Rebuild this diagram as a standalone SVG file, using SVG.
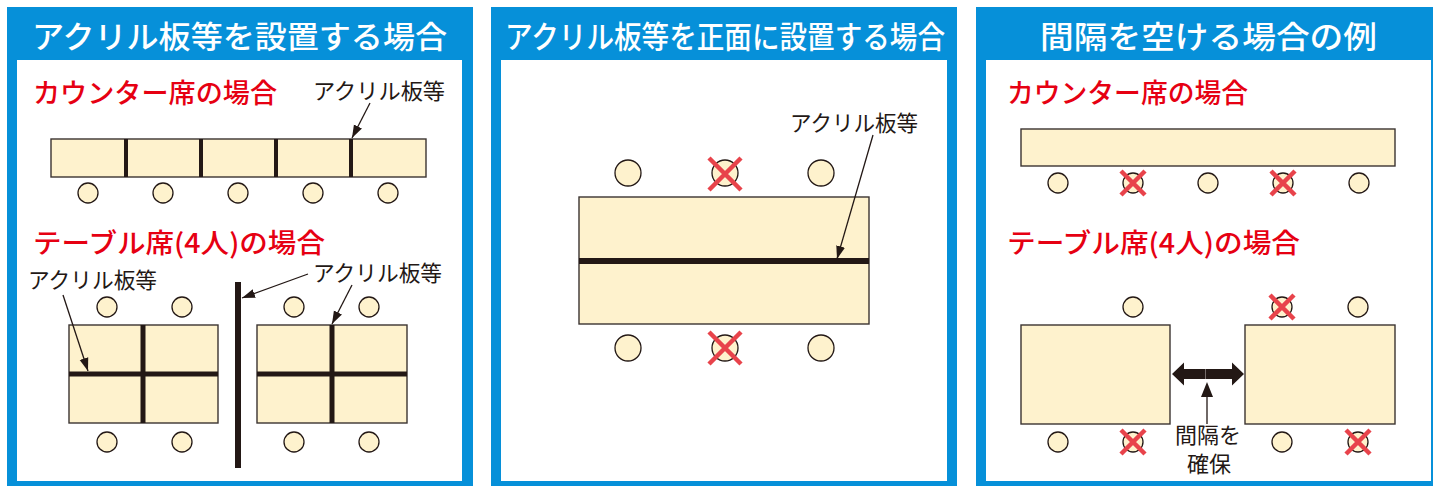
<svg xmlns="http://www.w3.org/2000/svg" width="1433" height="486" viewBox="0 0 1433 486">
<defs>
<style>
.panel{fill:#0690d9}
.inner{fill:#ffffff}
.title{font-family:"Noto Sans CJK JP","Noto Sans",sans-serif;font-size:31px;font-weight:500;fill:#ffffff}
.sub{font-family:"Noto Sans CJK JP","Noto Sans",sans-serif;font-size:27px;font-weight:500;fill:#e60012}
.lbl{font-family:"Noto Sans CJK JP","Noto Sans",sans-serif;font-size:22px;font-weight:400;fill:#231815}
.tbl{fill:#fef2cd;stroke:#3b3431;stroke-width:1.4}
.seat{fill:#fef2cd;stroke:#231815;stroke-width:1.3}
.bar{stroke:#231815;fill:none}
.ptr{stroke:#231815;stroke-width:1.3;fill:none;marker-end:url(#ah)}
.x{stroke:#e8434b;stroke-width:4.5;stroke-linecap:butt}
</style>
<marker id="ah" markerUnits="userSpaceOnUse" markerWidth="14" markerHeight="10" refX="13" refY="5" orient="auto">
<path d="M0,0.5 L13,5 L0,9.5 z" fill="#231815"/>
</marker>
</defs>

<!-- Panel 1 -->
<g id="panel1">
<rect class="panel" x="7" y="7" width="466" height="479"/>
<rect class="inner" x="17" y="60" width="445" height="421"/>
<text class="title" x="32" y="48" textLength="415" lengthAdjust="spacingAndGlyphs">アクリル板等を設置する場合</text>
<text class="sub" x="33" y="103" textLength="244" lengthAdjust="spacingAndGlyphs">カウンター席の場合</text>
<text class="sub" x="33" y="253" textLength="292" lengthAdjust="spacingAndGlyphs">テーブル席(4人)の場合</text>
</g>
<g id="p1-counter">
<rect class="tbl" x="51" y="139" width="375" height="38"/>
<g class="bar" stroke-width="4">
<line x1="126" y1="139" x2="126" y2="177"/>
<line x1="201" y1="139" x2="201" y2="177"/>
<line x1="276" y1="139" x2="276" y2="177"/>
<line x1="351" y1="139" x2="351" y2="177"/>
</g>
<circle class="seat" cx="88" cy="193" r="10"/>
<circle class="seat" cx="163" cy="193" r="10"/>
<circle class="seat" cx="238" cy="193" r="10"/>
<circle class="seat" cx="313" cy="193" r="10"/>
<circle class="seat" cx="388" cy="193" r="10"/>
<text class="lbl" x="313" y="99" textLength="132" lengthAdjust="spacingAndGlyphs">アクリル板等</text>
</g>
<g id="p1-table-left">
<rect class="tbl" x="69" y="325" width="149" height="98"/>
<g class="bar" stroke-width="5">
<line x1="143" y1="325" x2="143" y2="423"/>
<line x1="69" y1="374" x2="218" y2="374"/>
</g>
<circle class="seat" cx="107" cy="307" r="10"/>
<circle class="seat" cx="182" cy="307" r="10"/>
<circle class="seat" cx="107" cy="442" r="10"/>
<circle class="seat" cx="182" cy="442" r="10"/>
<text class="lbl" x="28" y="288" textLength="129" lengthAdjust="spacingAndGlyphs">アクリル板等</text>
</g>
<g id="p1-partition">
<line class="bar" stroke-width="6" x1="238" y1="282" x2="238" y2="468"/>
<text class="lbl" x="313" y="281" textLength="129" lengthAdjust="spacingAndGlyphs">アクリル板等</text>
</g>
<g id="p1-table-right">
<rect class="tbl" x="257" y="325" width="150" height="98"/>
<g class="bar" stroke-width="5">
<line x1="332" y1="325" x2="332" y2="423"/>
<line x1="257" y1="374" x2="407" y2="374"/>
</g>
<circle class="seat" cx="294" cy="307" r="10"/>
<circle class="seat" cx="369" cy="307" r="10"/>
<circle class="seat" cx="294" cy="442" r="10"/>
<circle class="seat" cx="369" cy="442" r="10"/>
</g>

<!-- Panel 2 -->
<g id="panel2">
<rect class="panel" x="491" y="7" width="466" height="479"/>
<rect class="inner" x="501" y="60" width="446" height="421"/>
<text class="title" x="505" y="48" textLength="440" lengthAdjust="spacingAndGlyphs">アクリル板等を正面に設置する場合</text>
</g>
<g id="p2-table">
<rect class="tbl" x="579" y="197" width="290" height="127"/>
<line class="bar" stroke-width="6" x1="579" y1="261" x2="869" y2="261"/>
<circle class="seat" cx="628" cy="173" r="13"/>
<circle class="seat" cx="725" cy="173" r="13"/>
<circle class="seat" cx="821" cy="173" r="13"/>
<circle class="seat" cx="628" cy="348" r="13"/>
<circle class="seat" cx="725" cy="348" r="13"/>
<circle class="seat" cx="821" cy="348" r="13"/>
<path class="x" d="M709,158 L741,190 M741,158 L709,190"/>
<path class="x" d="M709,332 L741,364 M741,332 L709,364"/>
<text class="lbl" x="790" y="131" textLength="128" lengthAdjust="spacingAndGlyphs">アクリル板等</text>
</g>

<!-- Panel 3 -->
<g id="panel3">
<rect class="panel" x="976" y="7" width="460" height="479"/>
<rect class="inner" x="986" y="60" width="445" height="421"/>
<text class="title" x="1040" y="48" textLength="337" lengthAdjust="spacingAndGlyphs">間隔を空ける場合の例</text>
<text class="sub" x="1007" y="103" textLength="241" lengthAdjust="spacingAndGlyphs">カウンター席の場合</text>
<text class="sub" x="1007" y="253" textLength="293" lengthAdjust="spacingAndGlyphs">テーブル席(4人)の場合</text>
</g>
<g id="p3-counter">
<rect class="tbl" x="1021" y="129" width="374" height="37"/>
<circle class="seat" cx="1058" cy="183" r="10"/>
<circle class="seat" cx="1133" cy="183" r="10"/>
<circle class="seat" cx="1208" cy="183" r="10"/>
<circle class="seat" cx="1283" cy="183" r="10"/>
<circle class="seat" cx="1359" cy="183" r="10"/>
<path class="x" d="M1121,171 L1145,195 M1145,171 L1121,195"/>
<path class="x" d="M1271,171 L1295,195 M1295,171 L1271,195"/>
</g>
<g id="p3-table-left">
<rect class="tbl" x="1021" y="325" width="149" height="99"/>
<circle class="seat" cx="1133" cy="307" r="10"/>
<circle class="seat" cx="1058" cy="442" r="10"/>
<circle class="seat" cx="1133" cy="442" r="10"/>
<path class="x" d="M1121,430 L1145,454 M1145,430 L1121,454"/>
</g>
<g id="p3-table-right">
<rect class="tbl" x="1245" y="325" width="150" height="99"/>
<circle class="seat" cx="1282" cy="307" r="10"/>
<circle class="seat" cx="1358" cy="307" r="10"/>
<circle class="seat" cx="1282" cy="442" r="10"/>
<circle class="seat" cx="1358" cy="442" r="10"/>
<path class="x" d="M1270,295 L1294,319 M1294,295 L1270,319"/>
<path class="x" d="M1346,430 L1370,454 M1370,430 L1346,454"/>
</g>
<g id="p3-gap-label">
<text class="lbl" x="1208" y="443" text-anchor="middle" font-size="20.5">間隔を</text>
<text class="lbl" x="1209" y="472" text-anchor="middle" font-size="20.5">確保</text>
</g>

<!-- Connectors -->
<g id="connectors">
<line class="ptr" x1="370" y1="103" x2="352" y2="138"/>
<line class="ptr" x1="63" y1="295" x2="88" y2="371"/>
<line class="ptr" x1="308" y1="274" x2="242" y2="298"/>
<line class="ptr" x1="352" y1="285" x2="332" y2="324"/>
<line class="ptr" x1="873" y1="135" x2="837" y2="259"/>
<path d="M1172,374 L1184,362.5 L1184,369 L1232,369 L1232,362.5 L1244,374 L1232,385.5 L1232,379 L1184,379 L1184,385.5 z" fill="#231815"/>
<line x1="1205.5" y1="369" x2="1205.5" y2="379" stroke="#8a8380" stroke-width="0.8"/>
<line x1="1207" y1="396" x2="1207" y2="424" stroke="#231815" stroke-width="1.3"/>
<path d="M1207,382 L1213,397 L1201,397 z" fill="#231815"/>
</g>
</svg>
